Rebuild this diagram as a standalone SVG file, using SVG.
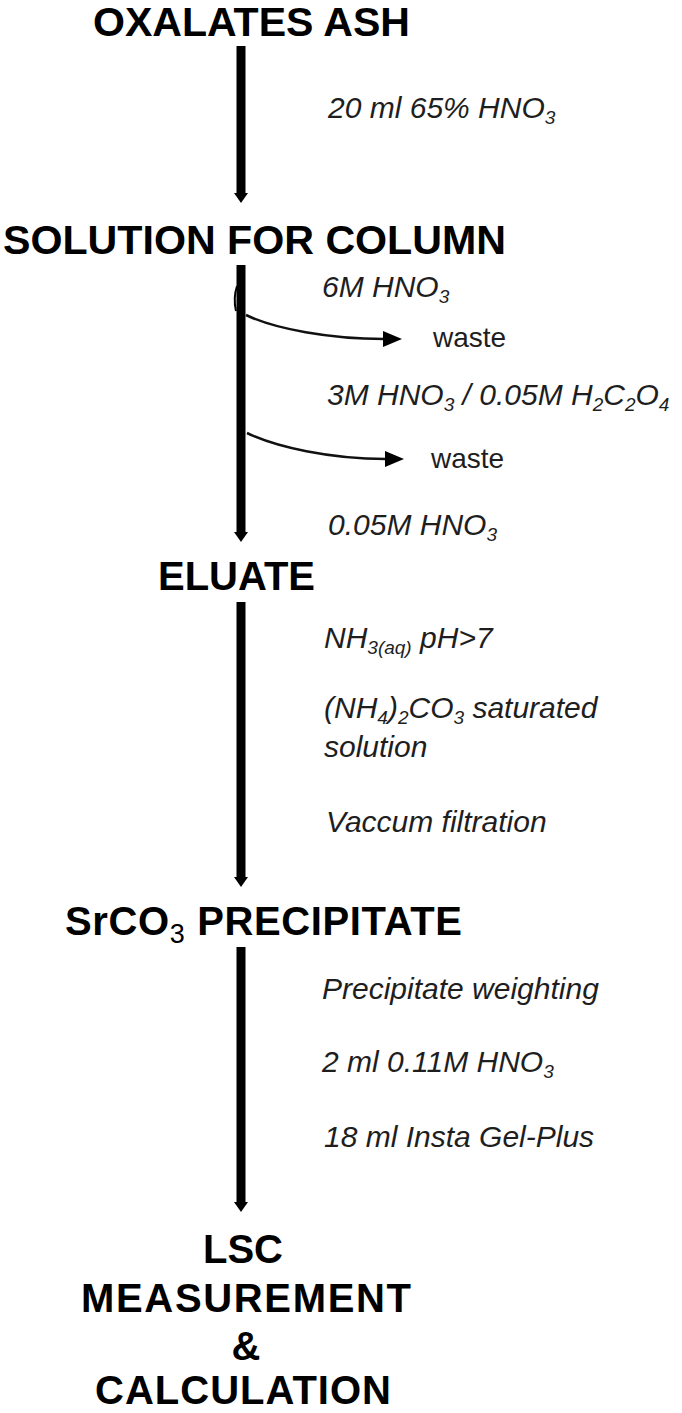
<svg xmlns="http://www.w3.org/2000/svg" width="682" height="1413" viewBox="0 0 682 1413">
<style>
.t{font-family:"Liberation Sans",Arial,sans-serif;font-weight:bold;font-size:40px;fill:#000}
.l{font-family:"Liberation Sans",Arial,sans-serif;font-style:italic;font-size:30px;fill:#1e1e1e}
.w{font-family:"Liberation Sans",Arial,sans-serif;font-size:28px;fill:#1e1e1e}
.s{font-size:19px}
.ts{font-size:27px;font-weight:normal}
.main{stroke:#000;stroke-width:9;fill:none}
.br{stroke:#111;stroke-width:2.5;fill:none}
.mk{fill:#000}
</style>
<defs>
<marker id="mh" viewBox="0 0 10 14" refX="1" refY="7" markerWidth="10" markerHeight="14" markerUnits="userSpaceOnUse" orient="auto"><path class="mk" d="M0,0 L10,7 L0,14 z"/></marker>
<marker id="ch" viewBox="0 0 19 16" refX="1" refY="8" markerWidth="19" markerHeight="16" markerUnits="userSpaceOnUse" orient="auto"><path class="mk" d="M0,0 L19,8 L0,16 z"/></marker>
</defs>

<g id="connectors">
<line class="main" x1="241" y1="46" x2="241" y2="194" marker-end="url(#mh)"/>
<line class="main" x1="241" y1="265" x2="241" y2="533" marker-end="url(#mh)"/>
<path d="M237,286 Q233,298 236,311" stroke="#000" stroke-width="2" fill="none"/>
<path class="br" d="M246,315 C275,329 330,339 384,339" marker-end="url(#ch)"/>
<path class="br" d="M247,433 C276,447 330,459 386,459" marker-end="url(#ch)"/>
<line class="main" x1="241" y1="602" x2="241" y2="878" marker-end="url(#mh)"/>
<line class="main" x1="241" y1="947" x2="241" y2="1203" marker-end="url(#mh)"/>
</g>

<g id="node-oxalates-ash"><text class="t" x="93" y="36" textLength="317" lengthAdjust="spacingAndGlyphs">OXALATES ASH</text></g>
<g id="node-solution"><text class="t" x="3" y="254" textLength="503" lengthAdjust="spacingAndGlyphs">SOLUTION FOR COLUMN</text></g>
<g id="node-eluate"><text class="t" x="158" y="590">ELUATE</text></g>
<g id="node-srco3"><text class="t" x="65" y="935" textLength="397" lengthAdjust="spacing">SrCO<tspan class="ts" dy="8">3</tspan><tspan dy="-8"> PRECIPITATE</tspan></text></g>
<g id="node-lsc">
<text class="t" x="243" y="1263" text-anchor="middle">LSC</text>
<text class="t" x="246" y="1312" text-anchor="middle" textLength="330" lengthAdjust="spacing">MEASUREMENT</text>
<text class="t" x="246" y="1360" text-anchor="middle">&amp;</text>
<text class="t" x="243" y="1404" text-anchor="middle" textLength="296" lengthAdjust="spacing">CALCULATION</text>
</g>

<g id="labels">
<text class="l" x="328" y="118">20 ml 65% HNO<tspan class="s" dy="6">3</tspan></text>
<text class="l" x="322" y="297">6M HNO<tspan class="s" dy="6">3</tspan></text>
<text class="w" x="433" y="347">waste</text>
<text class="l" x="327" y="405">3M HNO<tspan class="s" dy="6">3</tspan><tspan dy="-6"> / 0.05M H</tspan><tspan class="s" dy="6">2</tspan><tspan dy="-6">C</tspan><tspan class="s" dy="6">2</tspan><tspan dy="-6">O</tspan><tspan class="s" dy="6">4</tspan></text>
<text class="w" x="431" y="468">waste</text>
<text class="l" x="328" y="535">0.05M HNO<tspan class="s" dy="6">3</tspan></text>
<text class="l" x="324" y="648">NH<tspan class="s" dy="6">3(aq)</tspan><tspan dy="-6"> pH&gt;7</tspan></text>
<text class="l" x="324" y="718">(NH<tspan class="s" dy="6">4</tspan><tspan dy="-6">)</tspan><tspan class="s" dy="6">2</tspan><tspan dy="-6">CO</tspan><tspan class="s" dy="6">3</tspan><tspan dy="-6"> saturated</tspan></text>
<text class="l" x="324" y="757">solution</text>
<text class="l" x="326" y="832">Vaccum filtration</text>
<text class="l" x="322" y="999">Precipitate weighting</text>
<text class="l" x="322" y="1072">2 ml 0.11M HNO<tspan class="s" dy="6">3</tspan></text>
<text class="l" x="324" y="1147">18 ml Insta Gel-Plus</text>
</g>
</svg>
